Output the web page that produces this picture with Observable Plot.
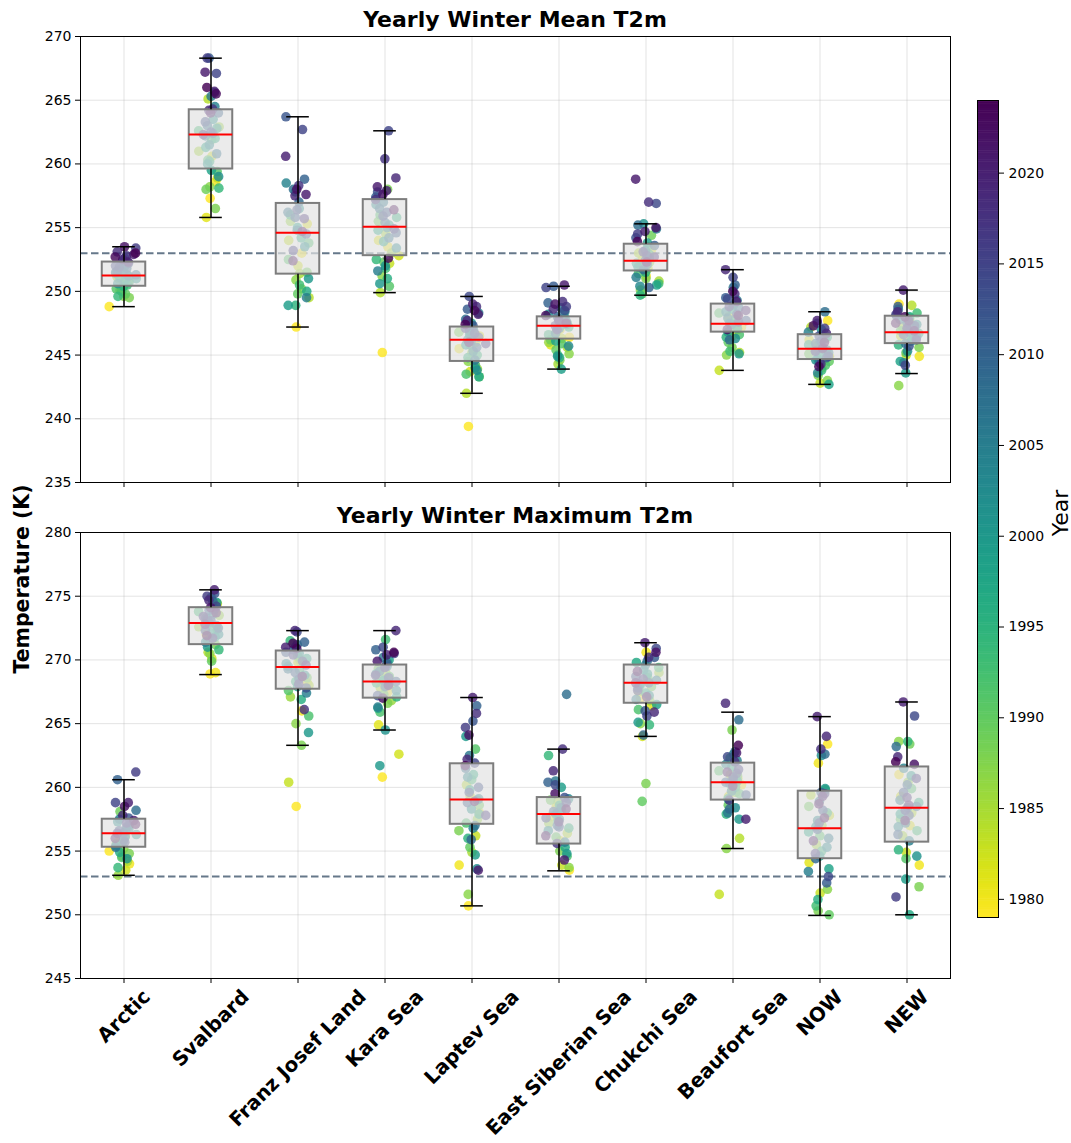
<!DOCTYPE html>
<html><head><meta charset="utf-8">
<script src="https://cdn.jsdelivr.net/npm/d3@7"></script>
<script src="https://cdn.jsdelivr.net/npm/@observablehq/plot@0.6"></script>
<style>
body{margin:0;background:#fff;font-family:"DejaVu Sans",sans-serif;}
#wrap{position:relative;width:1071px;height:1143px;overflow:hidden;background:#fff;}
.abs{position:absolute;}
.title{font-weight:bold;font-size:22px;line-height:22px;text-align:center;width:870px;left:80px;color:#000;}
.rot{transform:translate(-50%,-50%) rotate(-90deg);white-space:nowrap;color:#000;}
</style></head><body><div id="wrap"></div>
<script>
const regions = ["Arctic","Svalbard","Franz Josef Land","Kara Sea","Laptev Sea","East Siberian Sea","Chukchi Sea","Beaufort Sea","NOW","NEW"];
const years = d3.range(1979, 2025);
const threshold = 253;
const meanTicks = [235,240,245,250,255,260,265,270];
const maxTicks = [245,250,255,260,265,270,275,280];
const yearTicks = [1980,1985,1990,1995,2000,2005,2010,2015,2020];

// Yearly winter mean T2m (K), 1979..2024
const mean_Arctic = [248.8,250.9,251.0,250.6,251.2,250.3,250.8,251.0,249.6,249.5,250.1,249.8,250.2,250.0,250.5,249.6,250.4,250.7,251.1,250.9,251.4,251.0,251.3,250.6,251.5,251.2,251.7,252.0,251.5,251.3,251.8,251.6,252.4,252.2,251.9,252.6,252.0,253.4,252.8,253.1,252.5,252.3,252.9,253.5,252.7,253.0];
const mean_Svalbard = [257.3,258.6,255.8,260.6,258.9,265.1,261.0,262.9,258.2,256.5,258.0,261.9,259.4,260.3,262.6,258.1,260.2,262.0,261.3,259.5,262.8,260.0,263.5,259.0,261.5,264.5,262.2,265.3,260.8,263.0,262.4,264.0,268.3,265.6,263.3,262.5,267.1,268.3,264.3,262.3,264.2,265.7,267.2,264.0,265.5,266.0];
const mean_FJL = [247.2,253.0,255.3,252.0,254.0,249.5,251.4,255.5,250.9,250.2,251.5,249.8,252.5,253.8,250.5,256.0,248.9,254.2,250.0,255.0,248.9,251.0,256.5,253.5,257.8,258.5,249.5,254.8,256.2,258.0,257.0,258.8,255.8,263.7,254.5,256.4,262.7,253.2,258.3,255.7,257.5,260.6,257.6,258.0,254.7,252.4];
const mean_Kara = [245.2,253.5,254.0,252.8,252.2,249.9,254.5,253.0,251.2,258.0,255.5,252.3,250.4,256.0,251.8,252.5,255.8,251.0,254.8,253.9,255.2,250.6,252.0,256.8,253.4,255.0,251.6,257.0,254.2,256.5,255.4,257.4,254.6,256.2,257.8,255.9,262.6,254.9,260.4,257.2,258.9,257.9,258.2,257.6,252.6,256.4];
const mean_Laptev = [239.4,245.5,246.5,243.7,246.0,242.0,245.2,243.9,244.5,246.8,243.3,245.8,244.2,243.5,246.3,245.0,244.8,247.0,243.3,246.6,244.0,245.8,247.5,243.8,246.2,245.3,248.3,246.9,244.6,247.8,246.1,245.6,248.6,247.3,246.4,249.6,246.7,247.1,245.9,248.8,247.7,249.0,248.2,246.0,248.5,247.4];
const mean_ESS = [246.4,247.0,245.8,246.8,246.3,245.6,244.3,246.0,245.1,244.6,246.2,245.4,245.9,247.5,245.0,246.6,247.2,244.8,247.9,246.1,243.9,247.4,244.9,248.2,245.7,247.1,248.4,246.7,248.7,247.6,248.0,249.1,250.4,247.8,248.5,247.3,250.3,248.8,247.0,249.2,248.6,247.7,250.5,249.0,248.1,247.5];
const mean_Chukchi = [252.0,251.2,253.3,252.5,251.8,253.0,250.8,252.3,250.1,251.0,254.4,249.8,253.5,251.4,250.6,252.9,249.7,251.5,252.2,250.5,253.8,251.9,255.3,252.6,250.4,253.2,251.1,254.9,252.1,255.2,251.7,250.3,253.6,252.4,254.2,256.9,252.8,254.5,253.1,257.0,252.7,254.7,258.8,255.0,252.3,253.9];
const mean_Beaufort = [247.2,246.5,247.0,248.0,243.8,245.2,246.9,247.3,245.0,245.6,247.6,246.0,248.3,246.6,245.3,247.8,246.4,248.6,247.1,246.8,248.9,245.1,247.5,246.3,248.4,247.4,249.3,247.9,250.3,248.7,246.2,250.5,249.5,247.7,248.2,249.4,251.1,247.6,248.8,249.8,251.7,248.5,249.2,247.0,250.0,248.1];
const mean_NOW = [247.7,245.5,246.2,244.9,242.8,247.2,245.7,244.0,243.0,243.4,245.1,244.5,246.0,244.2,245.3,243.8,246.4,244.7,245.8,242.7,245.0,246.3,244.6,247.0,245.4,243.6,246.8,245.2,244.4,248.4,245.9,246.1,244.8,247.5,245.6,244.9,246.5,247.1,245.3,244.3,246.7,247.7,245.5,247.3,244.1,246.0];
const mean_NEW = [249.0,244.9,247.6,246.5,245.0,248.9,247.2,246.0,242.6,245.6,247.9,246.9,245.2,246.3,248.3,247.0,245.8,246.7,248.0,244.5,243.6,246.1,247.4,245.3,248.6,244.4,246.8,247.8,245.9,248.1,246.4,247.5,248.8,246.6,245.7,247.3,244.2,248.2,246.2,247.1,248.4,250.1,247.7,246.9,248.0,247.5];

// Yearly winter maximum T2m (K), 1979..2024
const max_Arctic = [255.0,254.0,256.0,253.5,255.6,254.6,254.2,253.1,255.2,254.8,258.1,256.2,255.5,254.5,256.8,253.7,255.9,257.0,254.9,256.5,255.4,256.3,254.4,257.3,255.8,256.7,257.5,256.1,255.3,258.2,256.9,260.6,256.4,257.6,256.6,255.7,258.8,261.2,257.2,256.4,257.8,258.8,257.4,258.5,256.0,257.1];
const max_Svalbard = [268.9,269.0,272.0,270.1,274.4,270.6,272.6,273.5,270.5,271.2,273.0,269.9,272.4,271.5,273.8,270.8,272.8,271.8,273.3,272.1,274.5,271.0,273.6,272.0,272.9,274.0,271.4,274.9,272.7,273.2,274.6,272.5,273.9,275.2,272.3,273.1,274.2,275.0,271.7,273.4,274.7,275.5,272.8,274.1,273.7,271.9];
const max_FJL = [258.5,266.0,268.2,269.8,260.4,268.0,270.0,267.1,265.0,263.3,268.6,270.3,267.6,265.6,269.2,271.5,268.3,266.9,270.1,267.9,269.5,264.3,270.5,268.8,271.0,269.7,267.4,271.2,269.3,270.8,268.5,271.4,269.0,270.6,267.8,272.2,269.9,270.4,268.1,266.1,272.3,271.0,269.6,270.9,268.7,271.3];
const max_Kara = [260.8,267.5,264.9,262.6,268.0,267.8,269.0,266.8,268.5,266.6,269.3,267.3,268.7,265.9,271.6,268.2,267.1,269.8,266.2,268.4,270.0,261.7,264.5,268.9,267.6,269.5,266.3,270.2,268.1,269.1,267.9,270.8,268.3,269.7,267.2,271.0,268.6,270.5,269.4,268.8,272.3,270.4,269.9,267.0,268.0,270.6];
const max_Laptev = [250.7,253.9,258.0,259.3,256.2,260.2,254.9,257.5,251.6,256.6,258.6,255.3,263.0,257.2,260.6,259.0,256.0,261.0,257.9,259.8,254.7,264.0,258.3,253.6,260.8,256.8,259.1,262.5,257.0,261.5,255.9,266.4,258.8,265.2,260.0,259.6,261.9,264.7,257.8,265.8,262.2,267.05,253.5,264.1,258.9,261.7];
const max_ESS = [253.5,255.8,257.7,258.5,253.9,256.4,258.9,257.2,253.7,255.0,259.0,256.1,258.2,254.6,257.4,262.5,256.8,258.6,255.3,257.9,260.0,254.8,258.0,256.6,259.1,257.5,255.7,260.5,258.4,267.3,257.0,260.4,258.1,256.9,259.2,260.2,257.6,258.8,255.6,263.0,261.3,257.3,254.3,259.5,256.2,258.3];
const max_Chukchi = [267.0,270.6,266.4,264.0,268.3,267.5,269.0,266.8,265.0,260.3,267.9,258.9,268.6,266.1,269.4,264.9,268.0,267.4,269.8,266.5,268.9,265.1,269.2,267.2,268.1,269.6,266.9,268.4,269.9,267.8,264.1,268.2,270.2,266.0,268.7,270.9,265.6,267.6,268.5,270.2,265.9,271.35,268.2,270.6,267.1,269.1];
const max_Beaufort = [260.2,259.8,260.7,259.3,251.6,256.0,261.0,259.6,255.2,264.5,260.9,258.6,261.3,259.5,262.3,260.0,257.9,261.6,260.5,259.1,262.6,257.5,260.3,258.4,261.8,259.7,262.1,258.0,260.6,265.3,258.3,262.8,260.4,259.4,261.1,262.4,260.8,261.4,259.0,262.0,266.6,257.5,262.7,261.2,260.1,263.3];
const max_NOW = [263.4,261.9,254.1,257.8,251.7,259.4,255.5,257.0,252.0,250.3,258.5,250.0,256.2,259.8,250.7,255.0,258.0,251.2,256.5,253.6,254.6,259.9,256.9,262.5,255.3,257.4,253.4,256.0,258.9,262.6,254.4,259.6,252.5,256.7,258.2,253.0,257.2,259.5,254.8,263.0,264.0,265.55,259.3,255.8,258.7,257.6];
const max_NEW = [261.0,253.9,257.0,259.3,254.9,258.0,256.2,260.4,263.6,252.2,263.4,257.5,254.4,259.9,256.6,263.6,255.1,258.8,250.0,257.9,252.8,260.9,254.6,258.4,256.9,261.5,255.8,259.0,257.2,263.2,258.5,260.2,256.3,259.6,257.8,265.6,258.2,251.4,260.7,259.2,262.4,266.7,258.6,261.8,257.4,262.0];

// Box statistics
const meanQ1  = [250.4,259.6,251.35,252.8,244.5,246.25,251.6,246.8,244.65,245.9];
const meanMed = [251.25,262.3,254.6,255.07,246.2,247.3,252.4,247.45,245.5,246.8];
const meanQ3  = [252.3,264.25,256.9,257.2,247.2,248.0,253.7,249.0,246.6,248.05];
const meanLo  = [248.8,255.8,247.2,249.9,242.0,243.9,249.7,243.8,242.7,243.55];
const meanHi  = [253.5,268.3,263.7,262.6,249.6,250.4,255.3,251.7,248.4,250.1];
const maxQ1  = [255.3,271.2,267.7,267.0,257.1,255.55,266.6,259.0,254.4,255.7];
const maxMed = [256.4,272.9,269.45,268.3,259.05,257.9,268.2,260.4,256.8,258.4];
const maxQ3  = [257.5,274.1,270.7,269.6,261.85,259.2,269.6,261.9,259.7,261.6];
const maxLo  = [253.1,268.85,263.3,264.5,250.7,253.45,264.0,255.2,249.95,250.0];
const maxHi  = [260.6,275.5,272.3,272.3,267.05,263.0,271.35,265.9,265.55,266.7];

const meanSeries = [mean_Arctic,mean_Svalbard,mean_FJL,mean_Kara,mean_Laptev,mean_ESS,mean_Chukchi,mean_Beaufort,mean_NOW,mean_NEW];
const maxSeries = [max_Arctic,max_Svalbard,max_FJL,max_Kara,max_Laptev,max_ESS,max_Chukchi,max_Beaufort,max_NOW,max_NEW];

const colorScale = {type:"linear", scheme:"viridis", reverse:true, domain:[1979,2024]};
const frac = v => v - Math.floor(v);
function jitter(r, i) { // deterministic spread of points around the category centre
  const a = frac(i*0.6180339 + r*0.37), b = frac(i*0.7548777 + r*0.5698);
  return ((a + b)/2 - 0.5) * 0.34;
}
const idx = d3.range(regions.length);

function panel(series, q1, med, q3, lo, hi, yDomain, yTicks, height, marginTop, marginBottom) {
  const pts = [];
  series.forEach((arr, r) => arr.forEach((v, i) => pts.push({r, year: years[i], v, jx: jitter(r, i)})));
  const boxes = idx.map(r => ({r, q1: q1[r], med: med[r], q3: q3[r], lo: lo[r], hi: hi[r]}));
  const bw = 0.25, cw = 0.13;
  return Plot.plot({
    width: 960, height, marginLeft: 80, marginRight: 10, marginTop, marginBottom,
    style: {fontFamily: "DejaVu Sans", fontSize: "14px", color: "#000", background: "#fff"},
    x: {type: "linear", domain: [-0.5, 9.5]},
    y: {domain: yDomain},
    color: colorScale,
    marks: [
      Plot.ruleX(idx, {stroke: "#b0b0b0", strokeOpacity: 0.35, strokeWidth: 1}),
      Plot.ruleY(yTicks, {stroke: "#b0b0b0", strokeOpacity: 0.35, strokeWidth: 1}),
      Plot.ruleY([threshold], {stroke: "#66788a", strokeWidth: 2, strokeDasharray: "7.5,3.5"}),
      Plot.dot(pts, {x: d => d.r + d.jx, y: "v", fill: "year", r: 4.8, fillOpacity: 0.82, stroke: "none"}),
      Plot.rect(boxes, {x1: d => d.r - bw, x2: d => d.r + bw, y1: "q1", y2: "q3", fill: "#e2e2e2", fillOpacity: 0.7, stroke: "#7d7d7d", strokeWidth: 2}),
      Plot.ruleX(boxes, {x: "r", y1: "q3", y2: "hi", stroke: "#000", strokeWidth: 1.5}),
      Plot.ruleX(boxes, {x: "r", y1: "lo", y2: "q1", stroke: "#000", strokeWidth: 1.5}),
      Plot.ruleY(boxes, {y: "hi", x1: d => d.r - cw, x2: d => d.r + cw, stroke: "#000", strokeWidth: 1.5}),
      Plot.ruleY(boxes, {y: "lo", x1: d => d.r - cw, x2: d => d.r + cw, stroke: "#000", strokeWidth: 1.5}),
      Plot.ruleY(boxes, {y: "med", x1: d => d.r - bw, x2: d => d.r + bw, stroke: "#ff0000", strokeWidth: 2}),
      Plot.axisY({ticks: yTicks, tickSize: 5, tickPadding: 4, label: null, fontSize: 14, tickFormat: d => String(d)}),
      Plot.axisX({ticks: idx, tickSize: 5, label: null, tickFormat: () => ""}),
      Plot.frame({stroke: "#000", strokeWidth: 1})
    ]
  });
}

const wrap = document.getElementById("wrap");
function place(el, left, topPx) { const d = document.createElement("div"); d.className = "abs"; d.style.left = left + "px"; d.style.top = topPx + "px"; d.appendChild(el); wrap.appendChild(d); return d; }

const topPlot = panel(meanSeries, meanQ1, meanMed, meanQ3, meanLo, meanHi, [235, 270], meanTicks, 490, 36, 8);
place(topPlot, 0, 0);
const bottomPlot = panel(maxSeries, maxQ1, maxMed, maxQ3, maxLo, maxHi, [245, 280], maxTicks, 653, 42, 165);
place(bottomPlot, 0, 490);

// rotated category labels beneath the lower panel, centred on each tick
{
  const sx = bottomPlot.scale("x");
  const s = 19.8, asc = 0.928*s, desc = 0.236*s, k = Math.SQRT1_2;
  const g = d3.select(bottomPlot).append("g").attr("font-family", "DejaVu Sans").attr("font-weight", "bold").attr("font-size", s).attr("text-anchor", "end").attr("fill", "#000");
  const labelTop = (653 - 165) + 7;
  regions.forEach((name, i) => {
    const t = g.append("text").text(name);
    const L = t.node().getComputedTextLength();
    const px = sx.apply(i) + k*(L + asc - desc)/2;
    const py = labelTop + k*asc;
    t.attr("transform", `translate(${px},${py}) rotate(-45)`);
  });
}

// colour bar
const bar = Plot.plot({
  width: 94, height: 840, marginTop: 10, marginBottom: 13, marginLeft: 0, marginRight: 73,
  style: {fontFamily: "DejaVu Sans", fontSize: "14px", color: "#000", background: "transparent"},
  x: {domain: [0, 1], axis: null},
  y: {domain: [1979, 2024]},
  color: colorScale,
  marks: [
    Plot.rect(d3.range(1979, 2024, 0.1), {x1: 0, x2: 1, y1: d => d, y2: d => Math.min(2024, d + 0.13), fill: d => d + 0.05}),
    Plot.axisY({anchor: "right", ticks: yearTicks, tickSize: 5, tickPadding: 5, label: null, tickFormat: d => String(d), fontSize: 14}),
    Plot.frame({stroke: "#000", strokeWidth: 1})
  ]
});
place(bar, 977, 90);

// titles and axis labels
function label(text, cls, left, topPx, style) { const d = document.createElement("div"); d.className = "abs " + cls; d.textContent = text; d.style.left = left + "px"; d.style.top = topPx + "px"; Object.assign(d.style, style || {}); wrap.appendChild(d); }
label("Yearly Winter Mean T2m", "title", 80, 8.5);
label("Yearly Winter Maximum T2m", "title", 80, 504.5);
label("Temperature (K)", "rot", 22, 579, {fontWeight: "bold", fontSize: "20.5px"});
label("Year", "rot", 1060, 513, {fontSize: "22px"});
</script>
</body></html>
